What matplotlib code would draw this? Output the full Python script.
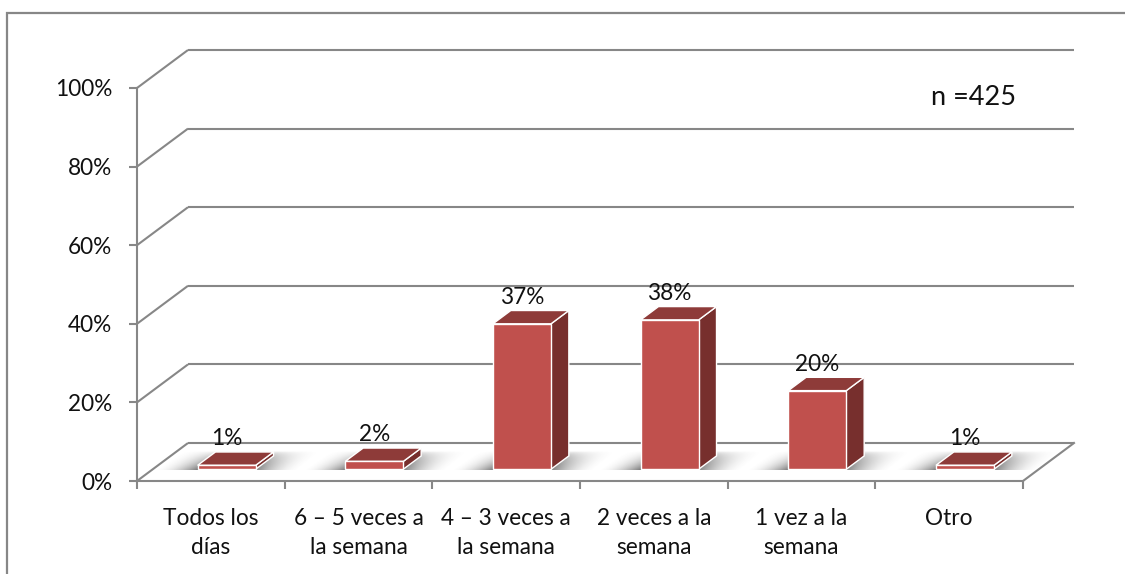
import numpy as np
import matplotlib
matplotlib.use("Agg")
import matplotlib.pyplot as plt
from matplotlib.patches import Polygon, Rectangle

plt.rcParams['font.family'] = ['Lato', 'DejaVu Sans']

# data
categories = ["Todos los\ndías", "6 – 5 veces a\nla semana", "4 – 3 veces a\nla semana",
              "2 veces a la\nsemana", "1 vez a la\nsemana", "Otro"]
values = [1, 2, 37, 38, 20, 1]
value_labels = ["1%", "2%", "37%", "38%", "20%", "1%"]
y_ticks = [0, 20, 40, 60, 80, 100]
y_tick_labels = ["0%", "20%", "40%", "60%", "80%", "100%"]
sample_note = "n =425"

W, H = 1125, 574
fig = plt.figure(figsize=(W / 100, H / 100), dpi=100)
fig.patch.set_facecolor("white")

FS = 16.3
text_c = "#111111"

# front plane of the 3-D box
ax = fig.add_axes([137 / W, (H - 481) / H, (1023 - 137) / W, (481 - 88) / H])
ax.set_facecolor("none")
n = len(categories)
XMAX, YMAX = n, 100
DX = 51 / ((1023 - 137) / n)   # depth offset in category units
DY = 38 / ((481 - 88) / 100)   # depth offset in percent units

grid_c = "#878787"
grid_lw = 1.5

def proj(x, y, t):
    return (x + t * DX, y + t * DY)

# walls: left-wall slants and back-wall gridlines
for v in y_ticks:
    ax.plot([0, DX], [v, v + DY], color=grid_c, lw=grid_lw, clip_on=False, zorder=1,
            solid_capstyle="butt")
    ax.plot([DX, XMAX + DX], [v + DY, v + DY], color=grid_c, lw=grid_lw, clip_on=False,
            zorder=1, solid_capstyle="butt")
# floor edges
ax.plot([0, XMAX], [0, 0], color=grid_c, lw=grid_lw, clip_on=False, zorder=1)
ax.plot([XMAX, XMAX + DX], [0, DY], color=grid_c, lw=grid_lw, clip_on=False, zorder=1)
ax.plot([0, 0], [0, 100], color=grid_c, lw=grid_lw, clip_on=False, zorder=1)

# bars
w = 0.393
t0, t1 = 0.31, 0.66
front_c = "#C0504D"
top_c = "#8E3B39"
side_c = "#772F2D"

for i, v in enumerate(values):
    xl = i + 0.5 - w / 2
    xr = i + 0.5 + w / 2

    # soft floor shadow around the bar base
    ts0, ts1 = t0 - 0.02, t1 + 0.12
    L, R = xl - 0.28, xr + 0.30
    ex0, ex1 = L + ts0 * DX, R + ts1 * DX
    ey0, ey1 = ts0 * DY, ts1 * DY
    nx, ny = 160, 40
    gx = np.linspace(ex0, ex1, nx)
    gy = np.linspace(ey0, ey1, ny)
    GX, GY = np.meshgrid(gx, gy)
    T = GY / DY
    XU = GX - T * DX
    a = np.zeros_like(XU)
    left = XU < xl
    right = XU > xr
    mid = ~(left | right)
    a[left] = np.clip((XU[left] - L) / (xl - L), 0, 1) ** 1.8
    a[right] = np.clip((R - XU[right]) / (R - xr), 0, 1) ** 1.8
    a[mid] = 1.0
    vert = np.clip((ts1 - T) / (ts1 - ts0), 0, 1) ** 0.6
    a = a * vert * 0.75
    img = np.zeros((ny, nx, 4))
    img[..., 0:3] = 0.33
    img[..., 3] = a
    ax.imshow(img, extent=(ex0, ex1, ey0, ey1), origin="lower", aspect="auto",
              interpolation="bilinear", zorder=2, clip_on=False)

    # side face
    side = [proj(xr, 0, t0), proj(xr, 0, t1), proj(xr, v, t1), proj(xr, v, t0)]
    ax.add_patch(Polygon(side, closed=True, facecolor=side_c, edgecolor="white",
                         lw=1.0, zorder=3, clip_on=False))
    # top face
    top = [proj(xl, v, t0), proj(xr, v, t0), proj(xr, v, t1), proj(xl, v, t1)]
    ax.add_patch(Polygon(top, closed=True, facecolor=top_c, edgecolor="white",
                         lw=1.0, zorder=3, clip_on=False))
    # front face
    front = [proj(xl, 0, t0), proj(xr, 0, t0), proj(xr, v, t0), proj(xl, v, t0)]
    ax.add_patch(Polygon(front, closed=True, facecolor=front_c, edgecolor="white",
                         lw=1.0, zorder=4, clip_on=False))

    lx, ly = proj(i + 0.5, v, t1)
    ax.annotate(value_labels[i], xy=(i + 0.5 + t0 * DX, ly), xytext=(0, 2),
                textcoords="offset points", ha="center", va="bottom",
                fontsize=FS, color=text_c, zorder=5, annotation_clip=False)

ax.set_xlim(0, XMAX)
ax.set_ylim(0, YMAX)

# axes ticks
for s in ax.spines.values():
    s.set_visible(False)
ax.set_yticks(y_ticks)
ax.set_yticklabels(y_tick_labels)
ax.set_xticks(np.arange(0, n + 1))
ax.set_xticklabels([])
ax.tick_params(axis="y", length=5.8, width=1.5, color=grid_c, pad=12,
               labelsize=FS, labelcolor=text_c)
ax.tick_params(axis="x", length=5.8, width=1.5, color=grid_c)

# category labels under the floor
for i, c in enumerate(categories):
    ax.annotate(c, xy=(i + 0.5, 0), xytext=(0, -19.5), textcoords="offset points",
                ha="center", va="top", fontsize=FS, color=text_c,
                linespacing=1.45, annotation_clip=False)

# sample size note
ax.text(5.38, 97.7, sample_note, ha="left", va="center", fontsize=19.5, color=text_c)

# chart area border
fig.patches.append(Rectangle((7 / W, -0.05), 1.2, 1 - 13 / H + 0.05,
                             transform=fig.transFigure, fill=False,
                             edgecolor="#878787", lw=1.6, zorder=0))

fig.savefig("out.png", dpi=100, facecolor="white")
